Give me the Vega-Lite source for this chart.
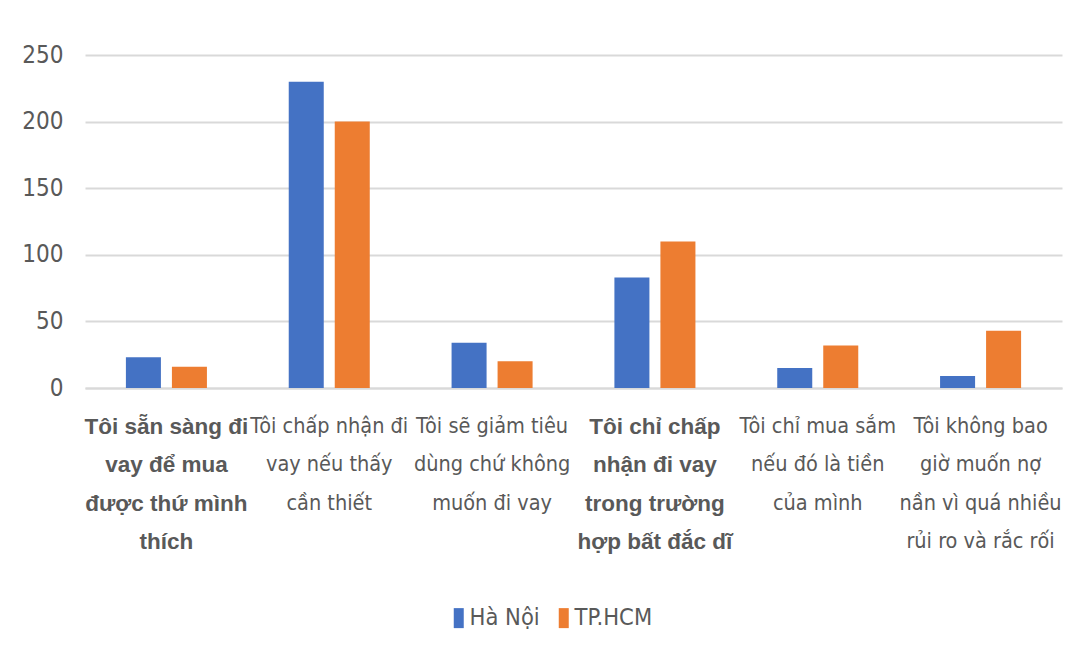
{
  "$schema": "https://vega.github.io/schema/vega-lite/v6.json",
  "width": 977,
  "height": 333,
  "autosize": {"type": "none"},
  "padding": {"left": 85, "top": 55, "right": 16, "bottom": 271},
  "background": "white",
  "data": {
    "values": [
      {"nhan_dinh": "Tôi sẵn sàng đi\nvay để mua\nđược thứ mình\nthích", "khu_vuc": "Hà Nội", "so_nguoi": 23},
      {"nhan_dinh": "Tôi sẵn sàng đi\nvay để mua\nđược thứ mình\nthích", "khu_vuc": "TP.HCM", "so_nguoi": 16},
      {"nhan_dinh": "Tôi chấp nhận đi\nvay nếu thấy\ncần thiết", "khu_vuc": "Hà Nội", "so_nguoi": 230},
      {"nhan_dinh": "Tôi chấp nhận đi\nvay nếu thấy\ncần thiết", "khu_vuc": "TP.HCM", "so_nguoi": 200},
      {"nhan_dinh": "Tôi sẽ giảm tiêu\ndùng chứ không\nmuốn đi vay", "khu_vuc": "Hà Nội", "so_nguoi": 34},
      {"nhan_dinh": "Tôi sẽ giảm tiêu\ndùng chứ không\nmuốn đi vay", "khu_vuc": "TP.HCM", "so_nguoi": 20},
      {"nhan_dinh": "Tôi chỉ chấp\nnhận đi vay\ntrong trường\nhợp bất đắc dĩ", "khu_vuc": "Hà Nội", "so_nguoi": 83},
      {"nhan_dinh": "Tôi chỉ chấp\nnhận đi vay\ntrong trường\nhợp bất đắc dĩ", "khu_vuc": "TP.HCM", "so_nguoi": 110},
      {"nhan_dinh": "Tôi chỉ mua sắm\nnếu đó là tiền\ncủa mình", "khu_vuc": "Hà Nội", "so_nguoi": 15},
      {"nhan_dinh": "Tôi chỉ mua sắm\nnếu đó là tiền\ncủa mình", "khu_vuc": "TP.HCM", "so_nguoi": 32},
      {"nhan_dinh": "Tôi không bao\ngiờ muốn nợ\nnần vì quá nhiều\nrủi ro và rắc rối", "khu_vuc": "Hà Nội", "so_nguoi": 9},
      {"nhan_dinh": "Tôi không bao\ngiờ muốn nợ\nnần vì quá nhiều\nrủi ro và rắc rối", "khu_vuc": "TP.HCM", "so_nguoi": 43}
    ]
  },
  "mark": {"type": "bar"},
  "encoding": {
    "x": {
      "field": "nhan_dinh",
      "type": "nominal",
      "sort": null,
      "scale": {"paddingInner": 0, "paddingOuter": 0},
      "axis": {
        "title": null,
        "labelAngle": 0,
        "labelExpr": "split(datum.label, '\\n')",
        "labelLineHeight": 38.5,
        "labelLimit": 0,
        "labelOverlap": false,
        "labelPadding": 27,
        "labelColor": "#595959",
        "labelFont": {
          "condition": {"test": "indexof(datum.value, 'sẵn sàng') >= 0 || indexof(datum.value, 'chỉ chấp') >= 0", "value": "Liberation Sans"},
          "value": "DejaVu Sans Condensed"
        },
        "labelFontSize": {
          "condition": {"test": "indexof(datum.value, 'sẵn sàng') >= 0 || indexof(datum.value, 'chỉ chấp') >= 0", "value": 22.5},
          "value": 21.5
        },
        "labelFontWeight": {
          "condition": {"test": "indexof(datum.value, 'sẵn sàng') >= 0 || indexof(datum.value, 'chỉ chấp') >= 0", "value": "bold"},
          "value": "normal"
        },
        "ticks": false,
        "domainColor": "#D9D9D9",
        "domainWidth": 2
      }
    },
    "xOffset": {
      "field": "khu_vuc",
      "type": "nominal",
      "sort": ["Hà Nội", "TP.HCM"],
      "scale": {"paddingInner": 0.239, "paddingOuter": 0.889}
    },
    "y": {
      "field": "so_nguoi",
      "type": "quantitative",
      "scale": {"domain": [0, 250]},
      "axis": {
        "title": null,
        "values": [0, 50, 100, 150, 200, 250],
        "domain": false,
        "ticks": false,
        "gridColor": "#D9D9D9",
        "gridWidth": 2,
        "labelFont": "DejaVu Sans Condensed",
        "labelFontSize": 24,
        "labelColor": "#595959",
        "labelPadding": 22
      }
    },
    "color": {
      "field": "khu_vuc",
      "type": "nominal",
      "scale": {"domain": ["Hà Nội", "TP.HCM"], "range": ["#4472C4", "#ED7D31"]},
      "legend": {
        "title": null,
        "orient": "none",
        "direction": "horizontal",
        "legendX": 362,
        "legendY": 551,
        "symbolType": "M-0.5,-1H0.5V1H-0.5Z",
        "symbolSize": 400,
        "symbolStrokeWidth": 0,
        "symbolOpacity": 1,
        "labelFont": "DejaVu Sans Condensed",
        "labelFontSize": 23.5,
        "labelColor": "#595959",
        "labelOffset": -1,
        "columnPadding": 12
      }
    }
  },
  "config": {"view": {"stroke": null}}
}
